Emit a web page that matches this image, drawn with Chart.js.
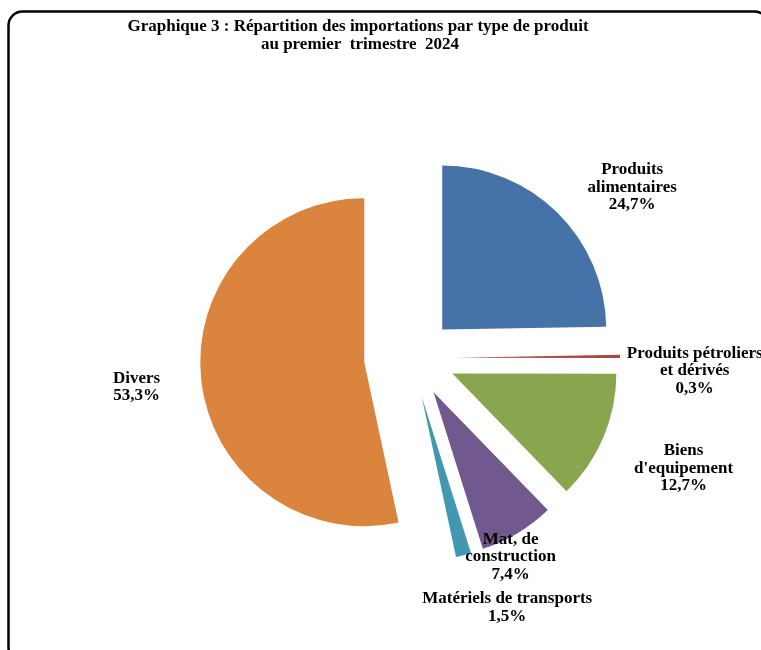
<!DOCTYPE html>
<html>
<head>
<meta charset="utf-8">
<script src="https://cdn.jsdelivr.net/npm/chart.js@4.4.0/dist/chart.umd.min.js"></script>
<style>
html, body { margin: 0; padding: 0; background: #fff; }
canvas { display: block; }
</style>
</head>
<body>
<canvas id="myChart" width="761" height="650"></canvas>
<script>
// données
var categories = [["Produits", "alimentaires"], ["Produits pétroliers", "et dérivés"], ["Biens", "d'equipement"], ["Mat, de", "construction"], ["Matériels de transports"], ["Divers"]];
var parts = [24.7, 0.3, 12.7, 7.4, 1.5, 53.3];
var colors = ['#4572A7', '#AA4643', '#89A54E', '#71588F', '#4198AF', '#DB843D'];
var titleLines = ["Graphique 3 : Répartition des importations par type de produit", "au premier  trimestre  2024"];

// placement des étiquettes : distance au centre, décalage d'angle (degrés)
var labelPlace = [[280, 8], [285, 3], [295, -1], [223, 4], [268, -6.5], [275, 0]];
var explodeX = 46, explodeY = 40;

var font = 'bold 17px "Liberation Serif", "Times New Roman", serif';

function pct(v){
  return v.toFixed(1).replace('.', ',') + '%';
}

function roundRect(ctx, x, y, w, h, r){
  ctx.beginPath();
  ctx.moveTo(x + r, y);
  ctx.lineTo(x + w - r, y);
  ctx.arcTo(x + w, y, x + w, y + r, r);
  ctx.lineTo(x + w, y + h - r);
  ctx.arcTo(x + w, y + h, x + w - r, y + h, r);
  ctx.lineTo(x + r, y + h);
  ctx.arcTo(x, y + h, x, y + h - r, r);
  ctx.lineTo(x, y + r);
  ctx.arcTo(x, y, x + r, y, r);
  ctx.closePath();
}

// secteurs éclatés : on déplace le centre de chaque arc le long de sa bissectrice
var eclate = {
  id: 'eclate',
  afterDatasetsUpdate: function(chart){
    chart.getDatasetMeta(0).data.forEach(function(arc){
      var mid = (arc.startAngle + arc.endAngle) / 2;
      arc.x += Math.cos(mid) * explodeX;
      arc.y += Math.sin(mid) * explodeY;
    });
  }
};

var decor = {
  id: 'decor',
  beforeDraw: function(chart){
    var ctx = chart.ctx;
    ctx.save();
    ctx.fillStyle = '#fff';
    ctx.fillRect(0, 0, chart.width, chart.height);
    ctx.restore();
  },
  afterDraw: function(chart){
    var ctx = chart.ctx;
    var area = chart.chartArea;
    var cx = (area.left + area.right) / 2;
    var cy = (area.top + area.bottom) / 2;
    ctx.save();

    // cadre
    ctx.lineWidth = 2.5;
    ctx.strokeStyle = '#000';
    roundRect(ctx, 8.5, 11.5, 760, 650, 14);
    ctx.stroke();

    // titre
    ctx.font = font;
    ctx.fillStyle = '#000';
    ctx.textAlign = 'center';
    ctx.textBaseline = 'middle';
    ctx.fillText(titleLines[0], 358, 27);
    ctx.fillText(titleLines[1], 360, 45);

    // étiquettes
    var meta = chart.getDatasetMeta(0);
    meta.data.forEach(function(arc, i){
      var mid = (arc.startAngle + arc.endAngle) / 2 + labelPlace[i][1] * Math.PI / 180;
      var x = cx + Math.cos(mid) * labelPlace[i][0];
      var y = cy + Math.sin(mid) * labelPlace[i][0];
      var lines = [].concat(categories[i], [pct(parts[i])]);
      var lh = 17.5;
      lines.forEach(function(t, k){
        ctx.fillText(t, x, y + (k - (lines.length - 1) / 2) * lh);
      });
    });

    ctx.restore();
  }
};

var ctx = document.getElementById('myChart');
var chart = new Chart(ctx, {
  type: 'pie',
  data: {
    labels: categories,
    datasets: [{
      data: parts,
      backgroundColor: colors,
      borderWidth: 0,
      radius: 164
    }]
  },
  options: {
    responsive: false,
    animation: false,
    layout: { padding: { left: 59, top: 66, right: 0, bottom: 0 } },
    plugins: {
      legend: { display: false },
      tooltip: { enabled: false },
      title: { display: false }
    }
  },
  plugins: [eclate, decor]
});
</script>
</body>
</html>
